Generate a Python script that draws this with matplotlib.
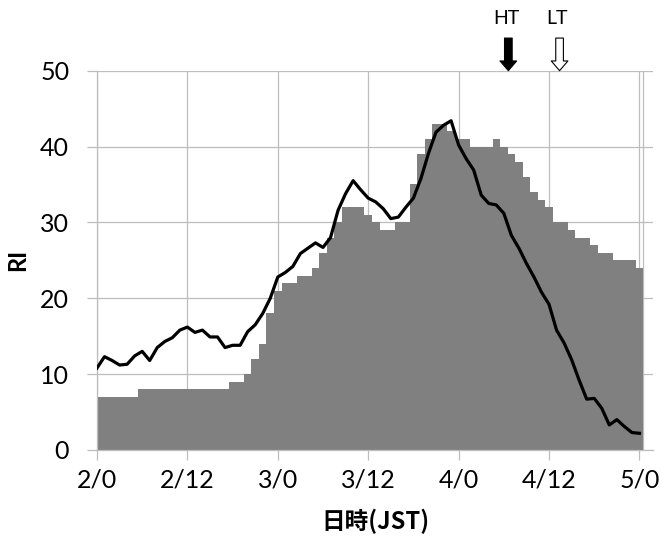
import numpy as np
import matplotlib
matplotlib.use("Agg")
import matplotlib.pyplot as plt

# hourly values, 2/0 .. 5/0 (hour 0..72)
hours = np.arange(0, 73)

# gray columns
ri_bars = [7, 7, 7, 7, 7, 7,
           8, 8, 8, 8, 8, 8, 8, 8, 8, 8, 8, 8,
           9, 9, 10, 12, 14, 18,
           21, 22, 22, 23, 23, 24, 26, 28, 30, 32, 32, 32,
           31, 30, 29, 29, 30, 30, 35, 39, 41, 43, 43, 42,
           41, 41, 40, 40, 40, 41, 40, 39, 38, 36, 34, 33,
           32, 30, 30, 29, 28, 28, 27, 26, 26, 25, 25, 25,
           24]

# black line
ri_line = [10.8, 12.3, 11.8, 11.2, 11.3, 12.4, 13.0, 11.8, 13.5, 14.3, 14.8, 15.8,
           16.2, 15.5, 15.8, 14.9, 14.9, 13.5, 13.8, 13.8, 15.6, 16.5, 18.0, 20.0,
           22.8, 23.4, 24.2, 25.9, 26.6, 27.3, 26.7, 28.0, 31.6, 33.8, 35.5, 34.3,
           33.2, 32.7, 31.8, 30.5, 30.7, 32.0, 33.2, 35.8, 39.1, 41.9, 42.8, 43.4,
           40.2, 38.4, 36.9, 33.6, 32.5, 32.3, 31.2, 28.3, 26.6, 24.6, 22.8, 20.8,
           19.2, 15.8, 14.1, 11.9, 9.2, 6.7, 6.8, 5.5, 3.3, 4.0, 3.1, 2.3,
           2.2]

xticks = [0, 12, 24, 36, 48, 60, 72]
xtick_labels = ["2/0", "2/12", "3/0", "3/12", "4/0", "4/12", "5/0"]
yticks = [0, 10, 20, 30, 40, 50]

tide_marks = {"HT": 54.6, "LT": 61.4}

plt.rcParams['font.family'] = ['Lato', 'Noto Sans CJK JP', 'DejaVu Sans']

grid_col = '#bdbdbd'

fig = plt.figure(figsize=(6.61, 5.40), dpi=100)
ax = fig.add_axes([0.1467, 0.1667, 0.8412, 0.7024])

ax.bar(hours, ri_bars, width=1.0, color='#808080', linewidth=0, zorder=2)
ax.plot(hours, ri_line, color='black', linewidth=2.3, zorder=3)
ax.axvline(hours[-1] + 0.5, color=grid_col, linewidth=0.9, zorder=1)

ax.set_xlim(0, 73.8)
ax.set_ylim(0, 50)
ax.set_xticks(xticks)
ax.set_xticklabels(xtick_labels)
ax.set_yticks(yticks)
ax.grid(True, color=grid_col, linewidth=0.9, zorder=0)
ax.set_axisbelow(True)

for side in ['top', 'right']:
    ax.spines[side].set_visible(False)
for side in ['left', 'bottom']:
    ax.spines[side].set_color(grid_col)
    ax.spines[side].set_linewidth(0.9)

ax.tick_params(axis='both', direction='out', length=7, width=0.9, color=grid_col,
               labelsize=18)
ax.tick_params(axis='x', pad=6)
ax.tick_params(axis='y', pad=13)

ax.set_ylabel('RI', fontsize=17, fontweight='bold', labelpad=8)
ax.set_xlabel('日時(JST)', fontsize=17, fontweight='bold', labelpad=13,
              family=['Noto Sans CJK JP', 'DejaVu Sans'])

# high / low tide arrows above the plot
for name, hx in tide_marks.items():
    face = 'black' if name == 'HT' else 'white'
    ax.annotate('', xy=(hx, 1.0), xytext=(hx, 1.086),
                xycoords=('data', 'axes fraction'), textcoords=('data', 'axes fraction'),
                arrowprops=dict(width=5.5, headwidth=12, headlength=7, shrink=0,
                                facecolor=face, edgecolor='black', linewidth=0.8),
                annotation_clip=False)
    ax.text(hx - 0.3, 1.138, name, transform=ax.get_xaxis_transform(),
            ha='center', va='center', fontsize=14)

fig.savefig('out.png', dpi=100)
